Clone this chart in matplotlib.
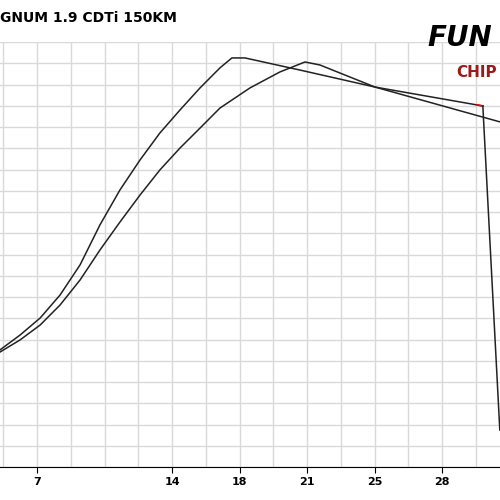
import matplotlib
matplotlib.use("Agg")
import matplotlib.pyplot as plt
import numpy as np

# curve values (x in chart units, y in grid units 0..20)
a_x = [5.08, 6.12, 7.16, 8.19, 9.23, 10.26, 11.30, 12.34, 13.37, 14.41, 15.45, 16.48, 17.10, 17.78, 20.63, 24.52, 30.11, 30.99]
a_y = [5.51, 6.21, 7.01, 8.09, 9.51, 11.39, 13.04, 14.45, 15.72, 16.80, 17.84, 18.78, 19.25, 19.25, 18.68, 17.88, 16.99, 1.74]
b_x = [5.08, 6.12, 7.16, 8.19, 9.23, 10.26, 11.30, 12.34, 13.37, 14.41, 15.45, 16.48, 18.04, 19.59, 20.89, 21.66, 24.52, 31.0]
b_y = [5.41, 5.98, 6.68, 7.62, 8.80, 10.21, 11.53, 12.80, 13.98, 15.01, 15.95, 16.89, 17.84, 18.59, 19.06, 18.92, 17.88, 16.24]
xticks = [7, 14, 17.5, 21, 24.5, 28]
xticklabels = ["7", "14", "18", "21", "25", "28"]

fig = plt.figure(figsize=(5, 5), dpi=100)
ax = fig.add_axes([0, 0.066, 1.0, 0.85])
ax.set_xlim(5.08, 31.0)
ax.set_ylim(0, 20)
ax.set_xticks(xticks)
ax.set_xticklabels(xticklabels, fontweight="bold", fontsize=8)
ax.set_xticks(np.arange(5.25, 31.1, 1.75), minor=True)
ax.set_yticks(np.arange(0, 20.1, 1))
ax.tick_params(axis="y", left=False, labelleft=False)
ax.tick_params(axis="x", which="major", length=4, color="black")
ax.tick_params(axis="x", which="minor", length=0)
ax.grid(True, which="both", color="#d9d9d9", lw=1)
ax.set_axisbelow(True)
for s in ["left", "right", "top"]:
    ax.spines[s].set_visible(False)
ax.spines["bottom"].set_color("black")

ax.plot(b_x, b_y, color="#222222", lw=1.1)
ax.plot(a_x[:-1], a_y[:-1], color="#222222", lw=1.1)
ax.plot([a_x[-2] - 0.3, a_x[-2]], [a_y[-2] + 0.05, a_y[-2]], color="red", lw=1.3)
ax.plot(a_x[-2:], a_y[-2:], color="#222222", lw=1.1)

fig.text(0.0, 0.964, "GNUM 1.9 CDTi 150KM", fontsize=10, fontweight="bold", va="center", ha="left")
fig.text(0.855, 0.925, "FUN", fontsize=20, fontweight="bold", style="italic", va="center", ha="left")
fig.text(0.912, 0.855, "CHIP", fontsize=11, fontweight="bold", color="#9b1b1b", va="center", ha="left")
fig.savefig("out.png", dpi=100, facecolor="white")
